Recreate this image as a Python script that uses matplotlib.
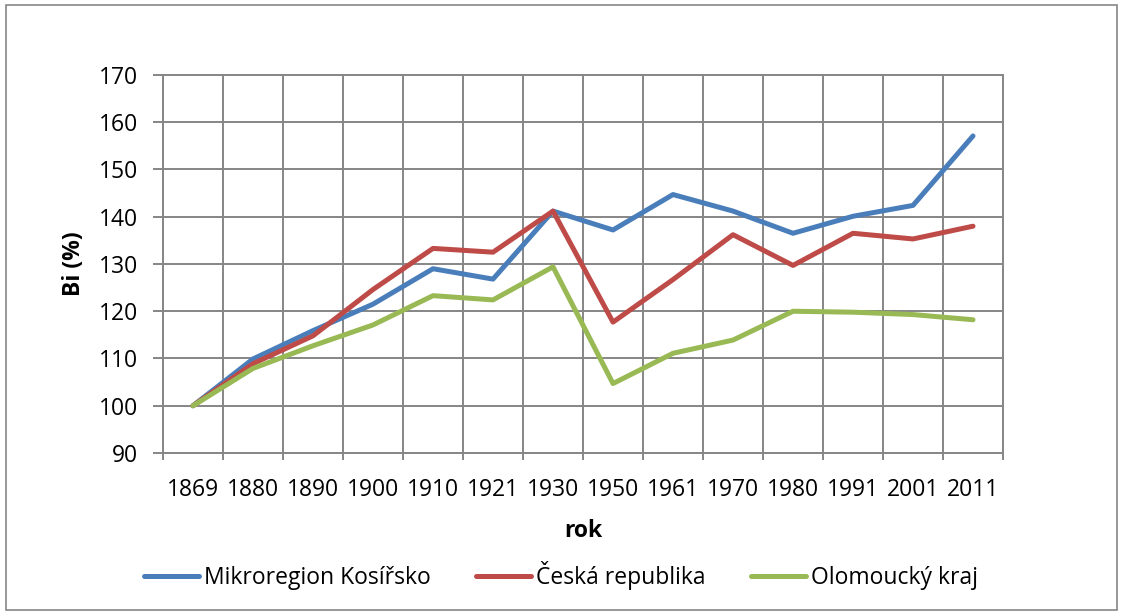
import matplotlib
matplotlib.use("Agg")
import matplotlib.pyplot as plt
from matplotlib.patches import Rectangle

years = ["1869", "1880", "1890", "1900", "1910", "1921", "1930",
         "1950", "1961", "1970", "1980", "1991", "2001", "2011"]
kosirsko = [100, 109.9, 115.9, 121.5, 129.0, 126.8, 141.2,
            137.2, 144.7, 141.2, 136.5, 140.1, 142.4, 157.1]
cr = [100, 108.9, 114.8, 124.6, 133.3, 132.5, 141.2,
      117.7, 126.7, 136.2, 129.7, 136.5, 135.3, 138.0]
olomoucky = [100, 107.9, 112.7, 117.1, 123.3, 122.4, 129.4,
             104.7, 111.1, 113.9, 120.0, 119.8, 119.3, 118.2]
series_names = ["Mikroregion Kosířsko", "Česká republika", "Olomoucký kraj"]
colors = ["#4A7EBB", "#BE4B48", "#98B954"]

plt.rcParams['font.family'] = ['Open Sans', 'DejaVu Sans']
fs = 16.5
grid_col = "#868686"

fig = plt.figure(figsize=(11.21, 6.14), dpi=100)
W, H = 1121, 614
ax = fig.add_axes([163 / W, 1 - 453 / H, (1003 - 163) / W, (453 - 75) / H])

x = list(range(len(years)))
for vals, name, c in zip([kosirsko, cr, olomoucky], series_names, colors):
    ax.plot(x, vals, color=c, lw=3.6, label=name, solid_capstyle='round',
            solid_joinstyle='round', zorder=3)

ax.set_xlim(-0.5, len(years) - 0.5)
ax.set_ylim(90, 170)
ax.set_yticks(range(90, 171, 10))
ax.set_xticks(x)
ax.set_xticklabels(years)
ax.set_xticks([i - 0.5 for i in range(len(years) + 1)], minor=True)

ax.grid(True, which='minor', axis='x', color=grid_col, lw=1.4)
ax.grid(True, which='major', axis='y', color=grid_col, lw=1.4)
ax.set_axisbelow(True)
for s in ax.spines.values():
    s.set_color(grid_col)
    s.set_linewidth(1.4)

ax.tick_params(axis='x', which='major', length=0, pad=18, labelsize=fs)
ax.tick_params(axis='x', which='minor', length=5, width=1.4, color=grid_col)
ax.tick_params(axis='y', which='major', length=7, width=1.4, color=grid_col,
               pad=11, labelsize=fs)

ax.set_xlabel("rok", fontsize=fs, fontweight='bold', labelpad=12)
ax.set_ylabel("Bi (%)", fontsize=fs, fontweight='bold', labelpad=9)

fig.legend(loc='center', bbox_to_anchor=(561 / W, 1 - 576 / H), ncol=3,
           frameon=False, fontsize=fs, handlelength=2.4, handletextpad=0.2,
           columnspacing=2.0)

fig.patches.append(Rectangle((6 / W, 4 / H), 1111 / W, 605 / H,
                             transform=fig.transFigure, fill=False,
                             edgecolor=grid_col, lw=1.2))

fig.savefig("out.png", dpi=100)
